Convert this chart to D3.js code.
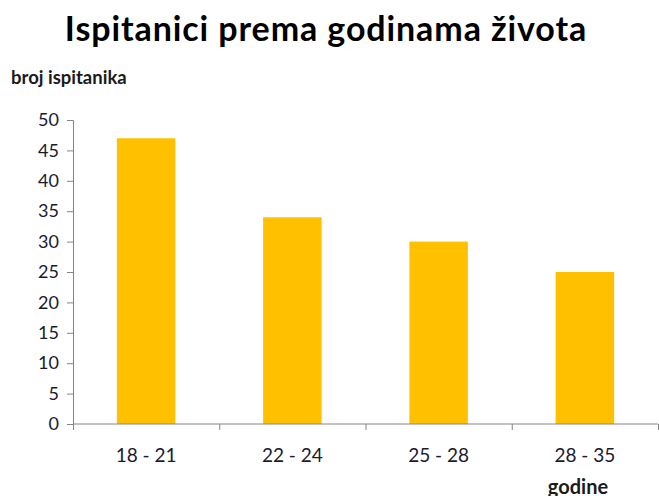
<!DOCTYPE html>
<html>
<head>
<meta charset="utf-8">
<script src="https://cdn.jsdelivr.net/npm/d3@7"></script>
<style>
  body { margin: 0; background: #fff; }
  text { font-family: Lato, "Open Sans", sans-serif; }
</style>
</head>
<body>
<div id="chart"></div>
<script>
// chart data
var categories = ['18 - 21', '22 - 24', '25 - 28', '28 - 35'];
var values = [47, 34, 30, 25];
var yTicks = [0, 5, 10, 15, 20, 25, 30, 35, 40, 45, 50];

var title = 'Ispitanici prema godinama života';
var yLabel = 'broj ispitanika';
var xLabel = 'godine';

// set the dimensions and margins of the graph
var outerWidth = 659;
var outerHeight = 496;
var margin = {top: 120, right: 1, bottom: 72, left: 73};
var innerWidth = outerWidth - margin.left - margin.right;
var innerHeight = outerHeight - margin.top - margin.bottom;

var svg = d3.select('#chart').append('svg')
  .attr('width', outerWidth)
  .attr('height', outerHeight);

var g = svg.append('g')
  .attr('transform', 'translate(' + margin.left + ', ' + margin.top + ')');

var x = d3.scaleBand().domain(categories).range([0, innerWidth])
    .paddingInner(0.6).paddingOuter(0.3),
    y = d3.scaleLinear().domain([0, 50]).range([innerHeight, 0]);

// bars
g.selectAll('rect.bar')
  .data(values)
  .enter().append('rect')
  .attr('class', 'bar')
  .attr('x', function(d, i) { return x(categories[i]); })
  .attr('width', x.bandwidth())
  .attr('y', function(d) { return y(d); })
  .attr('height', function(d) { return innerHeight - y(d); })
  .attr('fill', '#ffc000');

// y axis
var yAxis = g.append('g')
  .call(d3.axisLeft(y).tickValues(yTicks).tickSize(6).tickPadding(8));
yAxis.select('.domain').attr('stroke', '#868686');
yAxis.selectAll('.tick line').attr('stroke', '#868686');
yAxis.selectAll('text')
  .style('font-size', '18px')
  .attr('fill', '#1a1a2e');

// x axis - ticks sit on band boundaries
var xAxisG = g.append('g')
  .attr('transform', 'translate(0,' + innerHeight + ')');
xAxisG.append('line')
  .attr('x1', 0).attr('x2', innerWidth)
  .attr('y1', 0).attr('y2', 0)
  .attr('stroke', '#868686');
xAxisG.selectAll('line.tick')
  .data(d3.range(categories.length + 1))
  .enter().append('line')
  .attr('class', 'tick')
  .attr('x1', function(i) { return x.step() * i + 0.5; })
  .attr('x2', function(i) { return x.step() * i + 0.5; })
  .attr('y1', 0).attr('y2', 6)
  .attr('stroke', '#868686');
xAxisG.selectAll('text.cat')
  .data(categories)
  .enter().append('text')
  .attr('class', 'cat')
  .attr('x', function(d) { return x(d) + x.bandwidth() / 2; })
  .attr('y', 38)
  .attr('text-anchor', 'middle')
  .style('font-size', '19px')
  .attr('fill', '#1a1a2e')
  .text(function(d) { return d; });

// title and axis labels
svg.append('text')
  .attr('x', 326).attr('y', 41)
  .attr('text-anchor', 'middle')
  .style('font-size', '34px')
  .style('font-weight', 'bold')
  .style('letter-spacing', '0.9px')
  .attr('fill', '#000')
  .text(title);

svg.append('text')
  .attr('x', 11).attr('y', 84)
  .style('font-size', '18.5px')
  .style('font-weight', 'bold')
  .attr('fill', '#1a1a1a')
  .text(yLabel);

svg.append('text')
  .attr('x', 578).attr('y', 494)
  .attr('text-anchor', 'middle')
  .style('font-size', '20px')
  .style('font-weight', 'bold')
  .attr('fill', '#1a1a1a')
  .text(xLabel);
</script>
</body>
</html>
